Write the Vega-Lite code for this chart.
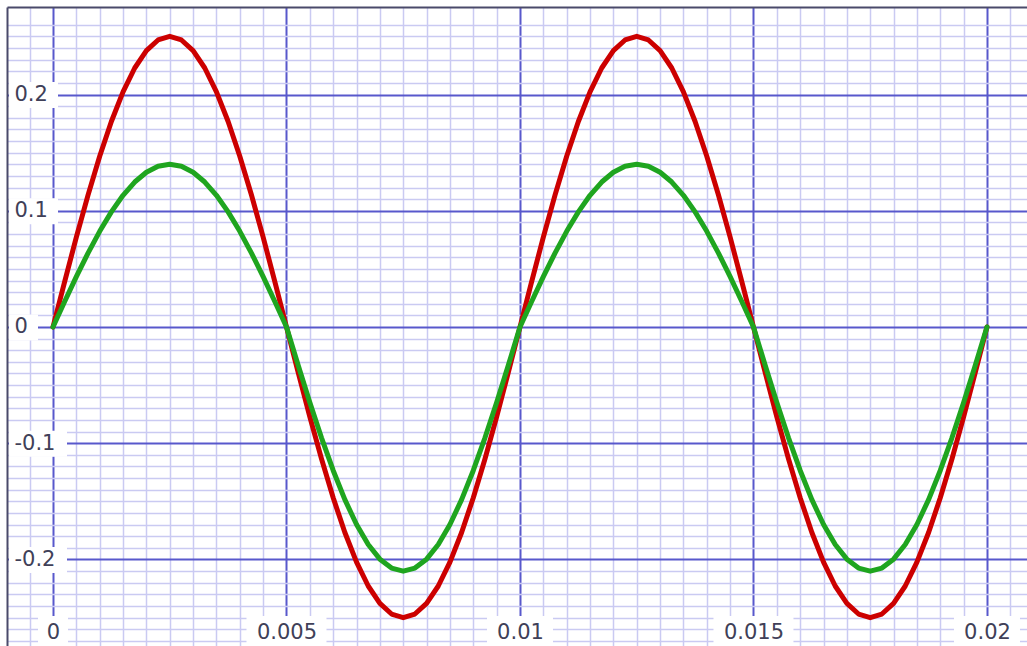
{
  "$schema": "https://vega.github.io/schema/vega-lite/v6.json",
  "width": 1020,
  "height": 639,
  "autosize": {"type": "none"},
  "padding": {"left": 7, "top": 7, "right": 0, "bottom": 0},
  "background": "white",
  "config": {
    "view": {"stroke": null},
    "axis": {"labelFont": "DejaVu Sans", "labelFontSize": 21, "labelColor": "#404058", "title": null}
  },
  "datasets": {
    "traces": [
      {"t": 0, "trace1": 0, "trace2": 0},
      {"t": 0.00025, "trace1": 0.0391, "trace2": 0.0219},
      {"t": 0.0005, "trace1": 0.0773, "trace2": 0.0433},
      {"t": 0.00075, "trace1": 0.1135, "trace2": 0.0636},
      {"t": 0.001, "trace1": 0.1469, "trace2": 0.0823},
      {"t": 0.00125, "trace1": 0.1768, "trace2": 0.099},
      {"t": 0.0015, "trace1": 0.2023, "trace2": 0.1133},
      {"t": 0.00175, "trace1": 0.2228, "trace2": 0.1247},
      {"t": 0.002, "trace1": 0.2378, "trace2": 0.1331},
      {"t": 0.00225, "trace1": 0.2469, "trace2": 0.1383},
      {"t": 0.0025, "trace1": 0.25, "trace2": 0.14},
      {"t": 0.00275, "trace1": 0.2469, "trace2": 0.1383},
      {"t": 0.003, "trace1": 0.2378, "trace2": 0.1331},
      {"t": 0.00325, "trace1": 0.2228, "trace2": 0.1247},
      {"t": 0.0035, "trace1": 0.2023, "trace2": 0.1133},
      {"t": 0.00375, "trace1": 0.1768, "trace2": 0.099},
      {"t": 0.004, "trace1": 0.1469, "trace2": 0.0823},
      {"t": 0.00425, "trace1": 0.1135, "trace2": 0.0636},
      {"t": 0.0045, "trace1": 0.0773, "trace2": 0.0433},
      {"t": 0.00475, "trace1": 0.0391, "trace2": 0.0219},
      {"t": 0.005, "trace1": 0, "trace2": 0},
      {"t": 0.00525, "trace1": -0.0391, "trace2": -0.0329},
      {"t": 0.0055, "trace1": -0.0773, "trace2": -0.0649},
      {"t": 0.00575, "trace1": -0.1135, "trace2": -0.0953},
      {"t": 0.006, "trace1": -0.1469, "trace2": -0.1234},
      {"t": 0.00625, "trace1": -0.1768, "trace2": -0.1485},
      {"t": 0.0065, "trace1": -0.2023, "trace2": -0.1699},
      {"t": 0.00675, "trace1": -0.2228, "trace2": -0.1871},
      {"t": 0.007, "trace1": -0.2378, "trace2": -0.1997},
      {"t": 0.00725, "trace1": -0.2469, "trace2": -0.2074},
      {"t": 0.0075, "trace1": -0.25, "trace2": -0.21},
      {"t": 0.00775, "trace1": -0.2469, "trace2": -0.2074},
      {"t": 0.008, "trace1": -0.2378, "trace2": -0.1997},
      {"t": 0.00825, "trace1": -0.2228, "trace2": -0.1871},
      {"t": 0.0085, "trace1": -0.2023, "trace2": -0.1699},
      {"t": 0.00875, "trace1": -0.1768, "trace2": -0.1485},
      {"t": 0.009, "trace1": -0.1469, "trace2": -0.1234},
      {"t": 0.00925, "trace1": -0.1135, "trace2": -0.0953},
      {"t": 0.0095, "trace1": -0.0773, "trace2": -0.0649},
      {"t": 0.00975, "trace1": -0.0391, "trace2": -0.0329},
      {"t": 0.01, "trace1": 0, "trace2": 0},
      {"t": 0.01025, "trace1": 0.0391, "trace2": 0.0219},
      {"t": 0.0105, "trace1": 0.0773, "trace2": 0.0433},
      {"t": 0.01075, "trace1": 0.1135, "trace2": 0.0636},
      {"t": 0.011, "trace1": 0.1469, "trace2": 0.0823},
      {"t": 0.01125, "trace1": 0.1768, "trace2": 0.099},
      {"t": 0.0115, "trace1": 0.2023, "trace2": 0.1133},
      {"t": 0.01175, "trace1": 0.2228, "trace2": 0.1247},
      {"t": 0.012, "trace1": 0.2378, "trace2": 0.1331},
      {"t": 0.01225, "trace1": 0.2469, "trace2": 0.1383},
      {"t": 0.0125, "trace1": 0.25, "trace2": 0.14},
      {"t": 0.01275, "trace1": 0.2469, "trace2": 0.1383},
      {"t": 0.013, "trace1": 0.2378, "trace2": 0.1331},
      {"t": 0.01325, "trace1": 0.2228, "trace2": 0.1247},
      {"t": 0.0135, "trace1": 0.2023, "trace2": 0.1133},
      {"t": 0.01375, "trace1": 0.1768, "trace2": 0.099},
      {"t": 0.014, "trace1": 0.1469, "trace2": 0.0823},
      {"t": 0.01425, "trace1": 0.1135, "trace2": 0.0636},
      {"t": 0.0145, "trace1": 0.0773, "trace2": 0.0433},
      {"t": 0.01475, "trace1": 0.0391, "trace2": 0.0219},
      {"t": 0.015, "trace1": 0, "trace2": 0},
      {"t": 0.01525, "trace1": -0.0391, "trace2": -0.0329},
      {"t": 0.0155, "trace1": -0.0773, "trace2": -0.0649},
      {"t": 0.01575, "trace1": -0.1135, "trace2": -0.0953},
      {"t": 0.016, "trace1": -0.1469, "trace2": -0.1234},
      {"t": 0.01625, "trace1": -0.1768, "trace2": -0.1485},
      {"t": 0.0165, "trace1": -0.2023, "trace2": -0.1699},
      {"t": 0.01675, "trace1": -0.2228, "trace2": -0.1871},
      {"t": 0.017, "trace1": -0.2378, "trace2": -0.1997},
      {"t": 0.01725, "trace1": -0.2469, "trace2": -0.2074},
      {"t": 0.0175, "trace1": -0.25, "trace2": -0.21},
      {"t": 0.01775, "trace1": -0.2469, "trace2": -0.2074},
      {"t": 0.018, "trace1": -0.2378, "trace2": -0.1997},
      {"t": 0.01825, "trace1": -0.2228, "trace2": -0.1871},
      {"t": 0.0185, "trace1": -0.2023, "trace2": -0.1699},
      {"t": 0.01875, "trace1": -0.1768, "trace2": -0.1485},
      {"t": 0.019, "trace1": -0.1469, "trace2": -0.1234},
      {"t": 0.01925, "trace1": -0.1135, "trace2": -0.0953},
      {"t": 0.0195, "trace1": -0.0773, "trace2": -0.0649},
      {"t": 0.01975, "trace1": -0.0391, "trace2": -0.0329},
      {"t": 0.02, "trace1": 0, "trace2": 0}
    ],
    "yticks": [{"v": -0.2}, {"v": -0.1}, {"v": 0}, {"v": 0.1}, {"v": 0.2}],
    "xticks": [{"v": 0}, {"v": 0.005}, {"v": 0.01}, {"v": 0.015}, {"v": 0.02}]
  },
  "layer": [
    {
      "data": {"name": "traces"},
      "transform": [{"fold": ["trace1", "trace2"], "as": ["series", "value"]}],
      "mark": {"type": "line", "opacity": 0},
      "encoding": {
        "x": {
          "field": "t", "type": "quantitative",
          "scale": {"domain": [-0.000985, 0.020857], "nice": false, "zero": false},
          "axis": {
            "orient": "top",
            "values": [-0.0005, 0, 0.0005, 0.001, 0.0015, 0.002, 0.0025, 0.003, 0.0035, 0.004, 0.0045, 0.005, 0.0055, 0.006, 0.0065, 0.007, 0.0075, 0.008, 0.0085, 0.009, 0.0095, 0.01, 0.0105, 0.011, 0.0115, 0.012, 0.0125, 0.013, 0.0135, 0.014, 0.0145, 0.015, 0.0155, 0.016, 0.0165, 0.017, 0.0175, 0.018, 0.0185, 0.019, 0.0195, 0.02, 0.0205],
            "grid": true,
            "gridColor": {"condition": {"test": "abs(datum.value*200 - round(datum.value*200)) < 0.01", "value": "#5858cc"}, "value": "#cacaf2"},
            "gridWidth": {"condition": {"test": "abs(datum.value*200 - round(datum.value*200)) < 0.01", "value": 2}, "value": 1.5},
            "labels": false, "ticks": false,
            "domain": true, "domainColor": "#4a4a6a", "domainWidth": 2
          }
        },
        "y": {
          "field": "value", "type": "quantitative",
          "scale": {"domain": [-0.27441, 0.27527], "nice": false, "zero": false},
          "axis": {
            "orient": "left",
            "values": [-0.27, -0.26, -0.25, -0.24, -0.23, -0.22, -0.21, -0.2, -0.19, -0.18, -0.17, -0.16, -0.15, -0.14, -0.13, -0.12, -0.11, -0.1, -0.09, -0.08, -0.07, -0.06, -0.05, -0.04, -0.03, -0.02, -0.01, 0, 0.01, 0.02, 0.03, 0.04, 0.05, 0.06, 0.07, 0.08, 0.09, 0.1, 0.11, 0.12, 0.13, 0.14, 0.15, 0.16, 0.17, 0.18, 0.19, 0.2, 0.21, 0.22, 0.23, 0.24, 0.25, 0.26],
            "grid": true,
            "gridColor": {"condition": {"test": "abs(datum.value*10 - round(datum.value*10)) < 0.01", "value": "#5858cc"}, "value": "#cacaf2"},
            "gridWidth": {"condition": {"test": "abs(datum.value*10 - round(datum.value*10)) < 0.01", "value": 2}, "value": 1.5},
            "labels": false, "ticks": false,
            "domain": true, "domainColor": "#4a4a6a", "domainWidth": 2
          }
        },
        "detail": {"field": "series", "type": "nominal"}
      }
    },
    {
      "data": {"name": "yticks"},
      "mark": {"type": "point", "filled": true, "color": "white", "opacity": 1, "strokeWidth": 0, "size": 100},
      "encoding": {
        "x": {"datum": -0.000985, "type": "quantitative", "scale": {"domain": [-0.000985, 0.020857], "nice": false, "zero": false}, "axis": null},
        "y": {"field": "v", "type": "quantitative", "scale": {"domain": [-0.27441, 0.27527], "nice": false, "zero": false}, "axis": null},
        "shape": {
          "field": "v", "type": "nominal", "legend": null,
          "scale": {
            "domain": [-0.2, -0.1, 0, 0.1, 0.2],
            "range": ["M0.4,-2.5H12V2.7H0.4Z", "M0.4,-2.5H12V2.7H0.4Z", "M0.4,-2.5H6.2V2.7H0.4Z", "M0.4,-2.5H10.2V2.7H0.4Z", "M0.4,-2.5H10.2V2.7H0.4Z"]
          }
        }
      }
    },
    {
      "data": {"name": "xticks"},
      "mark": {"type": "point", "filled": true, "color": "white", "opacity": 1, "strokeWidth": 0, "size": 100},
      "encoding": {
        "x": {"field": "v", "type": "quantitative", "scale": {"domain": [-0.000985, 0.020857], "nice": false, "zero": false}, "axis": null},
        "y": {"datum": -0.27441, "type": "quantitative", "scale": {"domain": [-0.27441, 0.27527], "nice": false, "zero": false}, "axis": null},
        "shape": {
          "field": "v", "type": "nominal", "legend": null,
          "scale": {
            "domain": [0, 0.005, 0.01, 0.015, 0.02],
            "range": ["M-3,-6H3V0H-3Z", "M-8,-6H8V0H-8Z", "M-6.6,-6H6.6V0H-6.6Z", "M-8,-6H8V0H-8Z", "M-6.6,-6H6.6V0H-6.6Z"]
          }
        }
      }
    },
    {
      "data": {"name": "traces"},
      "transform": [{"fold": ["trace1", "trace2"], "as": ["series", "value"]}],
      "mark": {"type": "line", "strokeWidth": 5, "strokeCap": "round", "strokeJoin": "round"},
      "encoding": {
        "x": {
          "field": "t", "type": "quantitative",
          "scale": {"domain": [-0.000985, 0.020857], "nice": false, "zero": false},
          "axis": {
            "orient": "bottom", "values": [0, 0.005, 0.01, 0.015, 0.02],
            "grid": false, "ticks": false, "tickSize": 0, "domain": false,
            "labelExpr": "replace(format(datum.value, '~g'), '−', '-')",
            "labelAlign": "center", "labelBaseline": "middle", "labelPadding": -14,
            "labelOverlap": false, "labelBound": false, "labelFlush": false,
            "zindex": 1
          }
        },
        "y": {
          "field": "value", "type": "quantitative",
          "scale": {"domain": [-0.27441, 0.27527], "nice": false, "zero": false},
          "axis": {
            "orient": "left", "values": [-0.2, -0.1, 0, 0.1, 0.2],
            "grid": false, "ticks": false, "tickSize": 0, "domain": false,
            "labelExpr": "replace(format(datum.value, '~g'), '−', '-')",
            "labelAlign": "left", "labelBaseline": "middle", "labelPadding": -7,
            "labelOverlap": false, "labelBound": false, "labelFlush": false,
            "zindex": 1
          }
        },
        "color": {
          "field": "series", "type": "nominal",
          "scale": {"domain": ["trace1", "trace2"], "range": ["#cc0000", "#1fa51f"]},
          "legend": null
        }
      }
    }
  ],
  "resolve": {"axis": {"x": "independent", "y": "independent"}, "scale": {"shape": "independent"}}
}
